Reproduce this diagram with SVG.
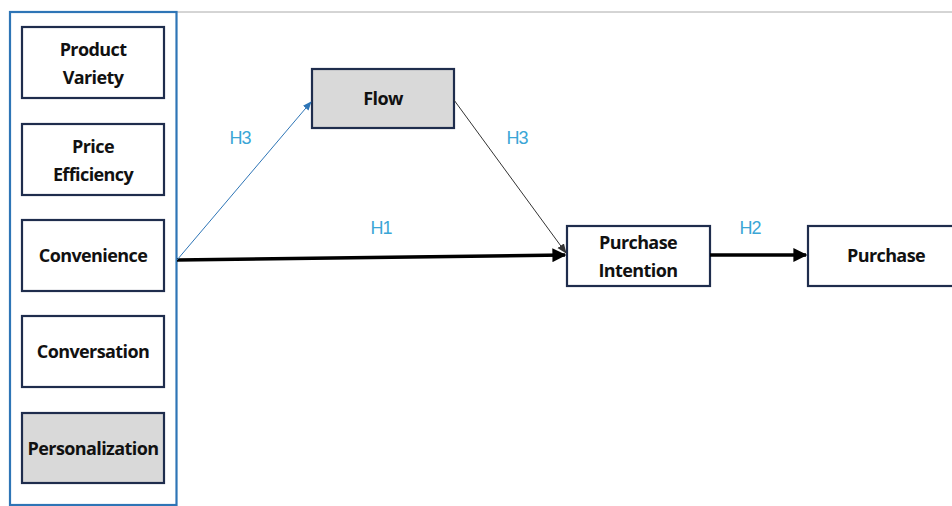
<svg xmlns="http://www.w3.org/2000/svg" width="952" height="506" viewBox="0 0 952 506">
<defs>
<style>
.box{fill:#ffffff;stroke:#1f2d4d;stroke-width:2.2}
.grey{fill:#d9d9d9}
.t{font-family:"Open Sans","Noto Sans","Liberation Sans",sans-serif;font-weight:bold;font-size:18px;letter-spacing:-0.6px;fill:#111;text-anchor:middle}
.h{font-family:"Liberation Sans","Noto Sans",sans-serif;font-size:18px;letter-spacing:-1px;fill:#3aa6d6;text-anchor:middle}
</style>
<marker id="ab" viewBox="0 0 10 10" refX="9" refY="5" markerWidth="4" markerHeight="4" orient="auto" markerUnits="strokeWidth"><path d="M0,0 L10,5 L0,10 z" fill="#000"/></marker>
<marker id="at" viewBox="0 0 10 10" refX="9" refY="5" markerWidth="10" markerHeight="10" orient="auto" markerUnits="strokeWidth"><path d="M0,1 L10,5 L0,9 z" fill="#333"/></marker>
<marker id="abl" viewBox="0 0 10 10" refX="9" refY="5" markerWidth="9" markerHeight="9" orient="auto" markerUnits="strokeWidth"><path d="M0,1 L10,5 L0,9 z" fill="#2e75b6"/></marker>
</defs>
<rect width="952" height="506" fill="#fff"/>
<line x1="177" y1="12" x2="952" y2="12" stroke="#aaaaaa" stroke-width="1"/>
<g id="group-left">
<rect x="10" y="12" width="166.5" height="493" fill="none" stroke="#2e75b6" stroke-width="2.2"/>
</g>
<g id="product-variety"><rect class="box" x="22" y="27" width="142" height="71"/><text class="t" x="93" y="56">Product</text><text class="t" x="93" y="84">Variety</text></g>
<g id="price-efficiency"><rect class="box" x="22" y="124" width="142" height="71"/><text class="t" x="93" y="153">Price</text><text class="t" x="93" y="181">Efficiency</text></g>
<g id="convenience"><rect class="box" x="22" y="220" width="142" height="71"/><text class="t" x="93" y="262">Convenience</text></g>
<g id="conversation"><rect class="box" x="22" y="316" width="142" height="71"/><text class="t" x="93" y="358">Conversation</text></g>
<g id="personalization"><rect class="box grey" x="22" y="413" width="142" height="70"/><text class="t" x="93" y="455">Personalization</text></g>
<g id="flow"><rect class="box grey" x="312" y="69" width="142" height="59"/><text class="t" x="383" y="105">Flow</text></g>
<g id="purchase-intention"><rect class="box" x="567" y="226" width="143" height="60"/><text class="t" x="638" y="249">Purchase</text><text class="t" x="638" y="277">Intention</text></g>
<g id="purchase"><rect class="box" x="808" y="226" width="150" height="60"/><text class="t" x="886" y="262">Purchase</text></g>
<g id="connectors">
<line x1="177" y1="260" x2="565" y2="255" stroke="#000" stroke-width="3.5" marker-end="url(#ab)"/>
<line x1="177" y1="260" x2="311" y2="102" stroke="#2e75b6" stroke-width="1" marker-end="url(#abl)"/>
<line x1="454" y1="100" x2="566" y2="253" stroke="#333" stroke-width="1" marker-end="url(#at)"/>
<line x1="710" y1="255" x2="806" y2="255" stroke="#000" stroke-width="3.5" marker-end="url(#ab)"/>
<text class="h" x="240" y="144">H3</text>
<text class="h" x="517" y="144">H3</text>
<text class="h" x="381" y="234">H1</text>
<text class="h" x="750" y="234">H2</text>
</g>
</svg>
